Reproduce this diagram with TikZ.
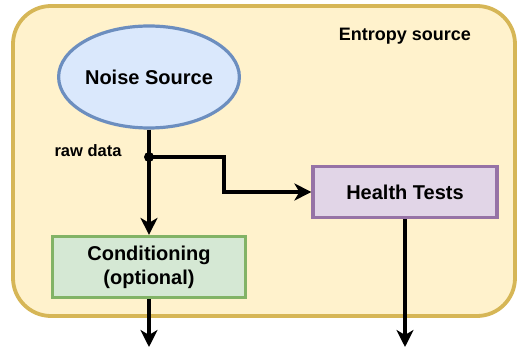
\documentclass[tikz,border=0pt]{standalone}
\usepackage{fontspec}
\setmainfont{Liberation Sans}
\usetikzlibrary{arrows.meta,shapes.geometric}
\definecolor{outerfill}{HTML}{FFF2CC}
\definecolor{outerdraw}{HTML}{D6B656}
\definecolor{bluefill}{HTML}{DAE8FC}
\definecolor{bluedraw}{HTML}{6C8EBF}
\definecolor{greenfill}{HTML}{D5E8D4}
\definecolor{greendraw}{HTML}{82B366}
\definecolor{purplefill}{HTML}{E1D5E7}
\definecolor{purpledraw}{HTML}{9673A6}
\tikzset{
  lbl/.style={font=\bfseries\fontsize{20}{24}\selectfont, align=center, inner sep=0pt},
  conn/.style={line width=3.6pt, -{Stealth[length=17pt,width=17pt,inset=5pt]}},
  shapeline/.style={line width=3.2pt}
}
\begin{document}
\begin{tikzpicture}[x=1pt,y=-1pt]
\useasboundingbox (0,0) rectangle (517,347);
\begin{scope}
\clip (0,0) rectangle (517,347);
\draw[fill=outerfill, draw=outerdraw, line width=3.8pt, rounded corners=38pt] (13,6) rectangle (515,316);
\end{scope}
\node[font=\bfseries\fontsize{18}{22}\selectfont, inner sep=0pt] (title) at (405,36) {Entropy source};
\node[ellipse, draw=bluedraw, fill=bluefill, shapeline, minimum width=172pt, minimum height=102pt, inner sep=0pt, font=\bfseries\fontsize{20}{24}\selectfont] (noise) at (149,77) {Noise Source};
\node[rectangle, draw=greendraw, fill=greenfill, shapeline, minimum width=193pt, minimum height=61pt, inner sep=0pt, lbl] (cond) at (149,267) {Conditioning\\(optional)};
\node[rectangle, draw=purpledraw, fill=purplefill, shapeline, minimum width=184pt, minimum height=51pt, inner sep=0pt, lbl] (health) at (405,192) {Health Tests};
\node[font=\bfseries\fontsize{16.5}{20}\selectfont, inner sep=0pt] (raw) at (88,151) {raw data};
\coordinate (dot) at (149,157);
\coordinate (bend1) at (224,157);
\coordinate (bend2) at (224,192);
\coordinate (out1) at (149,347);
\coordinate (out2) at (405,347);
\draw[conn] (noise.south) -- (cond.north);
\fill (dot) circle (5pt);
\draw[conn] (dot) -- (bend1) -- (bend2) -- (health.west);
\draw[conn] (cond.south) -- (out1);
\draw[conn] (health.south) -- (out2);
\end{tikzpicture}
\end{document}
